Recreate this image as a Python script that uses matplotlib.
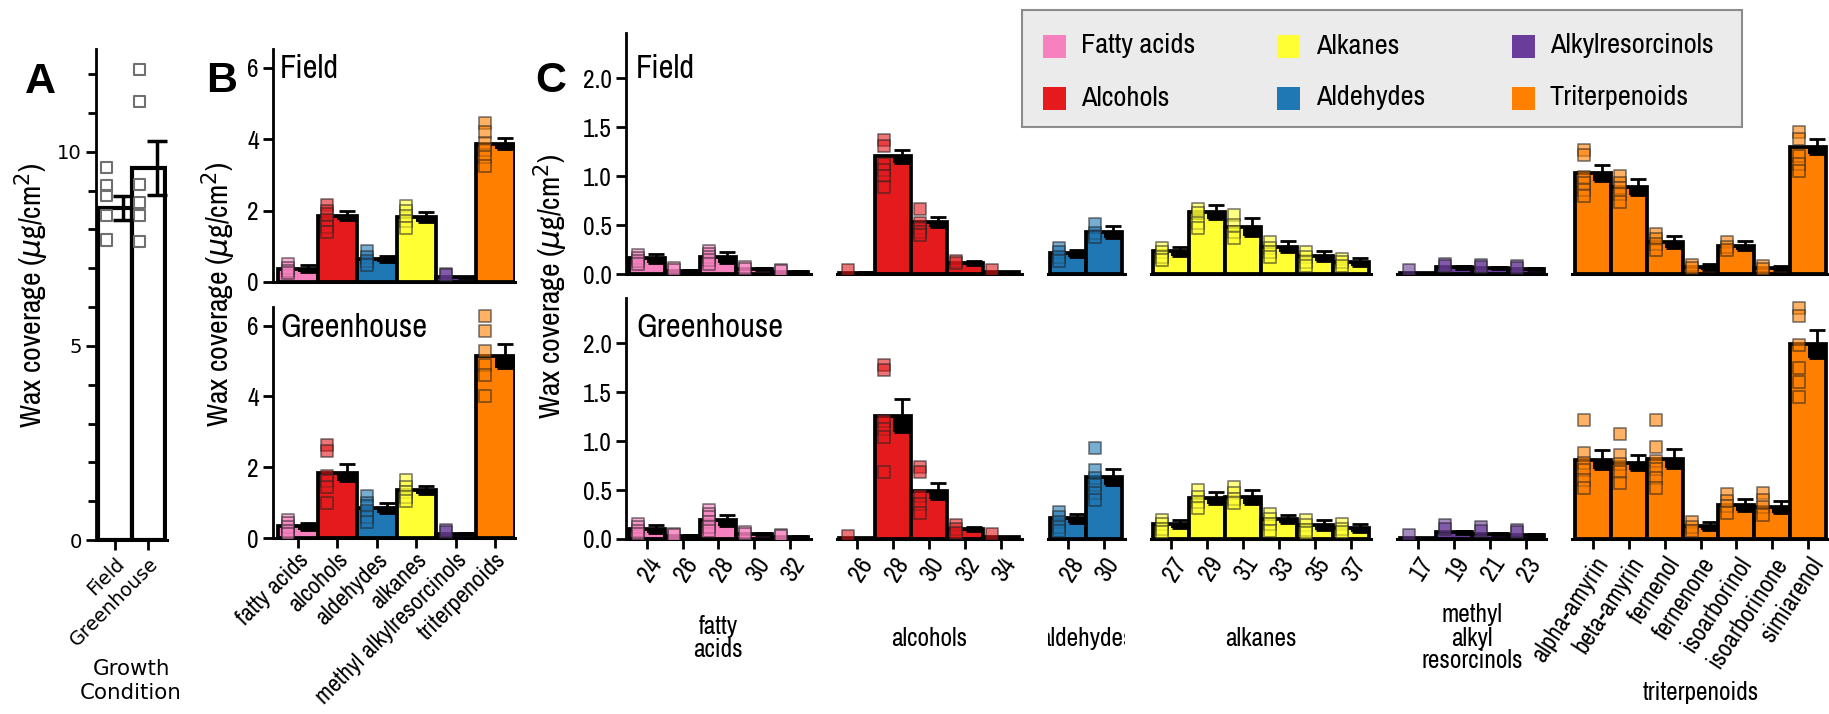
import numpy as np
import matplotlib
matplotlib.use('Agg')
import matplotlib.pyplot as plt
from matplotlib import font_manager
from matplotlib.patches import Rectangle
from matplotlib.colors import to_rgba
from matplotlib.transforms import Bbox, TransformedBbox

W, H = 1829, 714

# condensed face for most of the labels, with fallbacks
_have = set(f.name for f in font_manager.fontManager.ttflist)
NARROW = next((n for n in ['Liberation Sans Narrow', 'Archivo Narrow', 'Roboto Condensed',
                           'Liberation Sans'] if n in _have), 'DejaVu Sans')

# colours per compound class
c_fa = '#f781bf'
c_alc = '#e41a1c'
c_ald = '#1f77b4'
c_alk = '#ffff33'
c_ar = '#6a3d9a'
c_tri = '#ff7f00'

# ---- panel A: total wax
conditions = ['Field', 'Greenhouse']
a_mean = [8.55, 9.58]
a_se = [0.3, 0.7]
a_pts = [[9.59, 9.14, 8.88, 8.36, 7.73],
         [12.12, 11.3, 9.16, 8.69, 8.36, 7.69]]

# ---- panel B: compound classes
b_classes = ['fatty acids', 'alcohols', 'aldehydes', 'alkanes',
             'methyl alkylresorcinols', 'triterpenoids']
b_colors = [c_fa, c_alc, c_ald, c_alk, c_ar, c_tri]
b_field_mean = [0.37, 1.86, 0.64, 1.81, 0.13, 3.88]
b_field_se = [0.1, 0.12, 0.08, 0.14, 0.02, 0.15]
b_field_pts = [[0.5, 0.4, 0.3, 0.25], [2.15, 2.0, 1.9, 1.75, 1.55, 1.4],
               [0.86, 0.7, 0.6, 0.48], [2.13, 2.0, 1.85, 1.7, 1.52],
               [0.22, 0.2], [4.45, 4.2, 3.9, 3.7, 3.5, 3.25]]
b_gh_mean = [0.33, 1.85, 0.84, 1.35, 0.12, 5.15]
b_gh_se = [0.1, 0.24, 0.14, 0.12, 0.02, 0.34]
b_gh_pts = [[0.5, 0.42, 0.3, 0.2, 0.1], [2.64, 2.47, 1.75, 1.6, 1.45, 1.0],
            [1.18, 1.0, 0.9, 0.75, 0.6, 0.45], [1.63, 1.45, 1.3, 1.15, 1.05],
            [0.22, 0.18], [6.27, 5.85, 5.28, 4.9, 4.62, 4.0]]

# ---- panel C: single compounds
fa_chain = [24, 26, 28, 30, 32]
fa_field_mean = [0.16, 0.035, 0.17, 0.055, 0.025]
fa_field_se = [0.045, 0.01, 0.055, 0.01, 0.01]
fa_field_pts = [[0.19, 0.16, 0.13, 0.10], [0.06, 0.045], [0.23, 0.2, 0.17, 0.14, 0.1],
                [0.07, 0.055], [0.045, 0.035]]
fa_gh_mean = [0.10, 0.03, 0.19, 0.05, 0.02]
fa_gh_se = [0.04, 0.01, 0.06, 0.01, 0.01]
fa_gh_pts = [[0.15, 0.12, 0.08, 0.05], [0.05, 0.04], [0.3, 0.26, 0.22, 0.17, 0.12, 0.08],
             [0.07, 0.05], [0.04, 0.03]]

alc_chain = [26, 28, 30, 32, 34]
alc_field_mean = [0.015, 1.2, 0.53, 0.11, 0.02]
alc_field_se = [0.005, 0.07, 0.05, 0.02, 0.005]
alc_field_pts = [[0.04], [1.37, 1.31, 1.12, 1.06, 1.0, 0.89], [0.66, 0.52, 0.47, 0.43, 0.4],
                 [0.13, 0.11], [0.045]]
alc_gh_mean = [0.01, 1.26, 0.49, 0.1, 0.02]
alc_gh_se = [0.005, 0.17, 0.08, 0.02, 0.005]
alc_gh_pts = [[0.03], [1.78, 1.72, 1.2, 1.12, 1.04, 0.68], [0.73, 0.68, 0.44, 0.36, 0.27],
              [0.14, 0.1, 0.06], [0.05]]

ald_chain = [28, 30]
ald_field_mean = [0.21, 0.43]
ald_field_se = [0.04, 0.06]
ald_field_pts = [[0.27, 0.22, 0.17, 0.13], [0.51, 0.42, 0.38]]
ald_gh_mean = [0.21, 0.63]
ald_gh_se = [0.05, 0.08]
ald_gh_pts = [[0.28, 0.22, 0.17, 0.12, 0.08], [0.93, 0.7, 0.62, 0.55, 0.47, 0.4]]

alk_chain = [27, 29, 31, 33, 35, 37]
alk_field_mean = [0.23, 0.63, 0.48, 0.28, 0.18, 0.12]
alk_field_se = [0.05, 0.07, 0.09, 0.06, 0.05, 0.04]
alk_field_pts = [[0.27, 0.22, 0.17, 0.14], [0.66, 0.62, 0.52, 0.47], [0.6, 0.5, 0.43, 0.37],
                 [0.33, 0.27, 0.22, 0.17], [0.22, 0.17, 0.12, 0.08], [0.15, 0.12, 0.08]]
alk_gh_mean = [0.15, 0.42, 0.43, 0.2, 0.14, 0.11]
alk_gh_se = [0.04, 0.06, 0.07, 0.04, 0.05, 0.04]
alk_gh_pts = [[0.19, 0.15, 0.1, 0.07], [0.5, 0.43, 0.38, 0.32], [0.53, 0.47, 0.41, 0.37],
              [0.26, 0.2, 0.15, 0.08], [0.19, 0.14, 0.09, 0.06], [0.15, 0.1, 0.07]]

ar_chain = [17, 19, 21, 23]
ar_field_mean = [0.01, 0.07, 0.06, 0.05]
ar_field_se = [0.005, 0.015, 0.01, 0.01]
ar_field_pts = [[0.04], [0.1, 0.08], [0.09, 0.07], [0.08, 0.06]]
ar_gh_mean = [0.01, 0.07, 0.05, 0.04]
ar_gh_se = [0.005, 0.015, 0.01, 0.01]
ar_gh_pts = [[0.04], [0.14, 0.1], [0.12, 0.08], [0.09, 0.07]]

tri_names = ['alpha-amyrin', 'beta-amyrin', 'fernenol', 'fernenone',
             'isoarborinol', 'isoarborinone', 'simiarenol']
tri_field_mean = [1.03, 0.89, 0.33, 0.07, 0.29, 0.06, 1.3]
tri_field_se = [0.08, 0.08, 0.06, 0.03, 0.05, 0.02, 0.08]
tri_field_pts = [[1.27, 1.21, 0.99, 0.93, 0.86, 0.8], [1.0, 0.93, 0.88, 0.82, 0.74],
                 [0.41, 0.36, 0.31, 0.25], [0.09, 0.06], [0.33, 0.28, 0.24], [0.08, 0.05],
                 [1.45, 1.38, 1.2, 1.12, 1.05]]
tri_gh_mean = [0.81, 0.78, 0.82, 0.13, 0.35, 0.33, 1.99]
tri_gh_se = [0.1, 0.08, 0.1, 0.04, 0.06, 0.06, 0.14]
tri_gh_pts = [[1.21, 0.88, 0.78, 0.7, 0.6, 0.52], [1.07, 0.86, 0.77, 0.68, 0.57],
              [1.21, 0.94, 0.8, 0.71, 0.62, 0.52], [0.17, 0.12, 0.08],
              [0.46, 0.39, 0.34, 0.27], [0.47, 0.4, 0.33, 0.24],
              [2.36, 2.28, 1.98, 1.75, 1.6, 1.45]]

legend_labels = ['Fatty acids', 'Alcohols', 'Alkanes', 'Aldehydes', 'Alkylresorcinols', 'Triterpenoids']
legend_colors = [c_fa, c_alc, c_alk, c_ald, c_ar, c_tri]


fig = plt.figure(figsize=(W / 100, H / 100), dpi=100)
renderer = fig.canvas.get_renderer()


def fit(s, family, target_px, weight='normal'):
    # font size that gives the text a given width in pixels
    t = fig.text(0, 0, s, fontsize=20, family=family, fontweight=weight)
    w = t.get_window_extent(renderer).width
    t.remove()
    return 20 * target_px / w


fs_tick = fit('2.0', NARROW, 29)
fs_bx = fit('methyl alkylresorcinols', NARROW, 202)
fs_cx = fit('alpha-amyrin', NARROW, 120)
fs_group = fit('alcohols', NARROW, 76)
fs_panel = fit('Greenhouse', NARROW, 146)
fs_ylab = fit('Wax coverage ($\\mu$g/cm$^2$)', NARROW, 266)
fs_leg = fit('Alkylresorcinols', NARROW, 163)
fs_a_tick = fit('10', 'DejaVu Sans', 25)
fs_a_x = fit('Greenhouse', 'DejaVu Sans', 116)
fs_a_lab = fit('Condition', 'DejaVu Sans', 102)


def px_axes(left, top, right, bottom):
    return fig.add_axes([left / W, 1 - bottom / H, (right - left) / W, (bottom - top) / H])


def style(ax, left=True):
    for s in ['top', 'right']:
        ax.spines[s].set_visible(False)
    ax.spines['left'].set_visible(left)
    ax.spines['left'].set_linewidth(2)
    ax.spines['bottom'].set_linewidth(2.2)
    ax.tick_params(width=2, length=7, direction='out', pad=3)
    if not left:
        ax.tick_params(axis='y', left=False, labelleft=False)


def draw_bars(ax, x, mean, se, pts, color, w):
    x = np.asarray(x, float)
    mean = np.asarray(mean, float)
    se = np.asarray(se, float)
    ax.bar(x, mean, width=w, color=color, edgecolor='black', linewidth=2.7, zorder=2)
    ax.bar(x + w / 4, se, bottom=mean - se, width=w / 2, color='black', linewidth=0, zorder=2.5)
    for xi, p in zip(x, pts):
        ax.scatter(np.full(len(p), xi - w / 4), p, marker='s', s=80,
                   facecolors=[to_rgba(color, 0.6)], edgecolors=[(0.15, 0.15, 0.15, 0.55)],
                   linewidths=1.3, zorder=3)
    ax.errorbar(x + w / 4, mean, yerr=se, fmt='none', ecolor='black', elinewidth=2,
                capsize=6, capthick=2, zorder=4)


# ---------------- panel A
axA = px_axes(96, 49, 167, 540)
style(axA)
axA.bar([0, 1], a_mean, width=1, color='white', edgecolor='black', linewidth=3, zorder=2)
for i, p in enumerate(a_pts):
    axA.scatter(np.full(len(p), i - 0.25), p, marker='s', s=65, facecolors='none',
                edgecolors='#707070', linewidths=1.5, zorder=3)
axA.errorbar(np.array([0, 1]) + 0.25, a_mean, yerr=a_se, fmt='none', ecolor='black',
             elinewidth=2.5, capsize=7, capthick=2.5, zorder=4)
axA.set_xlim(-0.56, 1.56)
axA.set_ylim(0, 12.65)
axA.set_yticks([0, 5, 10])
axA.set_yticks(np.arange(0, 13), minor=True)
axA.tick_params(axis='y', which='minor', width=2, length=6)
axA.tick_params(axis='y', labelsize=fs_a_tick)
axA.set_xticks([0, 1])
axA.set_xticklabels(conditions, rotation=45, ha='right', va='top', rotation_mode='anchor',
                    fontsize=fs_a_x)

# ---------------- panel B
b_x = np.arange(len(b_classes))
for top, bottom, mean, se, pts, show_x in [(49, 282, b_field_mean, b_field_se, b_field_pts, False),
                                          (307, 538, b_gh_mean, b_gh_se, b_gh_pts, True)]:
    ax = px_axes(273, top, 515, bottom)
    style(ax)
    for i in range(len(b_classes)):
        draw_bars(ax, [b_x[i]], [mean[i]], [se[i]], [pts[i]], b_colors[i], 1.0)
    ax.set_xlim(-0.63, 5.5)
    ax.set_ylim(0, 6.53)
    ax.set_yticks([0, 2, 4, 6])
    ax.tick_params(axis='y', labelsize=fs_tick)
    for lbl in ax.get_yticklabels():
        lbl.set_family(NARROW)
    if show_x:
        ax.set_xticks(b_x)
        ax.set_xticklabels(b_classes, rotation=45, ha='right', va='top',
                           rotation_mode='anchor', fontsize=fs_bx, family=NARROW)
        ax.tick_params(axis='x', pad=1)
    else:
        ax.set_xticks([])

# ---------------- panel C
c_groups = [
    (fa_chain, [str(v) for v in fa_chain], c_fa, fa_field_mean, fa_field_se, fa_field_pts,
     fa_gh_mean, fa_gh_se, fa_gh_pts, 'fatty\nacids'),
    (alc_chain, [str(v) for v in alc_chain], c_alc, alc_field_mean, alc_field_se, alc_field_pts,
     alc_gh_mean, alc_gh_se, alc_gh_pts, 'alcohols'),
    (ald_chain, [str(v) for v in ald_chain], c_ald, ald_field_mean, ald_field_se, ald_field_pts,
     ald_gh_mean, ald_gh_se, ald_gh_pts, 'aldehydes'),
    (alk_chain, [str(v) for v in alk_chain], c_alk, alk_field_mean, alk_field_se, alk_field_pts,
     alk_gh_mean, alk_gh_se, alk_gh_pts, 'alkanes'),
    (ar_chain, [str(v) for v in ar_chain], c_ar, ar_field_mean, ar_field_se, ar_field_pts,
     ar_gh_mean, ar_gh_se, ar_gh_pts, 'methyl\nalkyl\nresorcinols'),
    (list(range(0, 2 * len(tri_names), 2)), tri_names, c_tri, tri_field_mean, tri_field_se,
     tri_field_pts, tri_gh_mean, tri_gh_se, tri_gh_pts, 'triterpenoids'),
]

unit = 17.94
gap = 26
x0 = 626
group_spans = []
for gi, (pos, labels, col, fm, fs, fp, gm, gs, gp, gname) in enumerate(c_groups):
    width = (pos[-1] - pos[0] + 2.3) * unit
    group_spans.append((x0, x0 + width, gname))
    for top, bottom, mean, se, pts, show_x in [(33, 274, fm, fs, fp, False),
                                              (298, 539, gm, gs, gp, True)]:
        ax = px_axes(x0, top, x0 + width, bottom)
        style(ax, left=(gi == 0))
        draw_bars(ax, pos, mean, se, pts, col, 2.0)
        ax.set_xlim(pos[0] - 1.15, pos[-1] + 1.15)
        ax.set_ylim(0, 2.46)
        if gi == 0:
            ax.set_yticks([0, 0.5, 1.0, 1.5, 2.0])
            ax.set_yticklabels(['0.0', '0.5', '1.0', '1.5', '2.0'], fontsize=fs_tick,
                               family=NARROW)
        if show_x:
            ax.set_xticks(pos)
            ax.set_xticklabels(labels, rotation=57, ha='right', va='top',
                               rotation_mode='anchor', fontsize=fs_cx, family=NARROW)
        else:
            ax.set_xticks([])
    x0 += width + gap

# ---------------- overlay for texts and legend
ov = fig.add_axes([0, 0, 1, 1], zorder=10)
ov.set_xlim(0, W)
ov.set_ylim(H, 0)
ov.axis('off')
ov.patch.set_visible(False)

for letter, lx, ly in [('A', 25, 93), ('B', 206, 92), ('C', 535, 92)]:
    ov.text(lx, ly, letter, fontsize=31, fontweight='bold', family='Liberation Sans',
            va='baseline', ha='left')

ylab = 'Wax coverage ($\\mu$g/cm$^2$)'
for yx, yy in [(32, 295), (219, 294), (551, 286)]:
    ov.text(yx, yy, ylab, rotation=90, ha='center', va='center', fontsize=fs_ylab, family=NARROW)

for tx, ty, t in [(280, 78, 'Field'), (280, 337, 'Greenhouse'),
                  (636, 78, 'Field'), (636, 337, 'Greenhouse')]:
    ov.text(tx, ty, t, fontsize=fs_panel, family=NARROW, va='baseline', ha='left')

ov.text(131, 681, 'Growth\nCondition', ha='center', va='center', fontsize=fs_a_lab,
        linespacing=1.2)

for gx0, gx1, gname in group_spans:
    cx = (gx0 + gx1) / 2
    cy = 692 if gname == 'triterpenoids' else 638
    t = ov.text(cx, cy, gname, ha='center', va='center', fontsize=fs_group, family=NARROW,
                linespacing=1.0)
    if gname == 'aldehydes':
        t.set_clip_box(TransformedBbox(Bbox([[gx0, 0], [gx1, H]]), ov.transData))
        t.set_clip_on(True)

# legend box
ov.add_patch(Rectangle((1022, 10), 720, 117, facecolor='#ebebeb', edgecolor='#8c8c8c',
                       linewidth=1.5, zorder=1))
leg_cols = [(1043, 1081), (1277, 1316), (1512, 1550)]
leg_rows = [46, 98]
for k, (lab, col) in enumerate(zip(legend_labels, legend_colors)):
    px_, tx_ = leg_cols[k // 2]
    ry = leg_rows[k % 2]
    ov.add_patch(Rectangle((px_, ry - 11.5), 23, 23, facecolor=col, edgecolor='none', zorder=2))
    ov.text(tx_, ry, lab, fontsize=fs_leg, family=NARROW, va='center', ha='left', zorder=3)

fig.savefig('out.png', dpi=100)
